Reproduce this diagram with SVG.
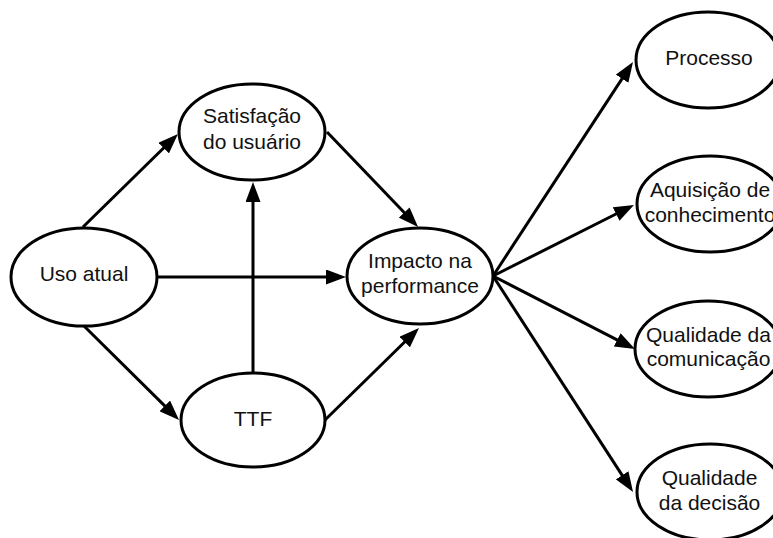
<svg xmlns="http://www.w3.org/2000/svg" width="773" height="538" viewBox="0 0 773 538">
<style>
.node ellipse{fill:#fff;stroke:#000;stroke-width:3}
.node text{font-family:"Liberation Sans",Arial,sans-serif;font-size:21px;fill:#111;text-anchor:middle}
.edges line{stroke:#000;stroke-width:3;marker-end:url(#arr)}
</style>
<defs>
<marker id="arr" markerUnits="userSpaceOnUse" markerWidth="20" markerHeight="15" refX="1" refY="7.5" orient="auto">
<path d="M0,0 L20,7.5 L0,15 z" fill="#000"/>
</marker>
</defs>
<rect width="773" height="538" fill="#fff"/>
<g class="edges">
<line x1="83" y1="227" x2="164.4" y2="147.3"/>
<line x1="84" y1="326" x2="165.5" y2="406.6"/>
<line x1="157" y1="277" x2="327" y2="277"/>
<line x1="253" y1="373" x2="253" y2="201"/>
<line x1="327" y1="132" x2="404.9" y2="213.3"/>
<line x1="325" y1="420" x2="405.4" y2="341.3"/>
<line x1="493" y1="276" x2="622.6" y2="77.9"/>
<line x1="493" y1="276" x2="617" y2="213.5"/>
<line x1="493" y1="276" x2="618.1" y2="340.3"/>
<line x1="493" y1="276" x2="622.7" y2="476.1"/>
</g>
<g id="uso" class="node"><ellipse cx="84" cy="277" rx="73" ry="49"/><text x="84" y="281">Uso atual</text></g>
<g id="satisfacao" class="node"><ellipse cx="252" cy="132" rx="73" ry="48"/><text x="252" y="123">Satisfação</text><text x="252" y="149">do usuário</text></g>
<g id="ttf" class="node"><ellipse cx="253" cy="420" rx="72" ry="47"/><text x="253" y="426">TTF</text></g>
<g id="impacto" class="node"><ellipse cx="420" cy="276" rx="73" ry="48"/><text x="420" y="268">Impacto na</text><text x="420" y="293">performance</text></g>
<g id="processo" class="node"><ellipse cx="708" cy="60" rx="72" ry="48"/><text x="709" y="65">Processo</text></g>
<g id="aquisicao" class="node"><ellipse cx="710" cy="204" rx="73" ry="48"/><text x="710" y="197">Aquisição de</text><text x="710" y="222">conhecimento</text></g>
<g id="comunicacao" class="node"><ellipse cx="708" cy="349" rx="73" ry="48"/><text x="708.5" y="342">Qualidade da</text><text x="708.5" y="366">comunicação</text></g>
<g id="decisao" class="node"><ellipse cx="710" cy="492" rx="73" ry="48"/><text x="709.5" y="485">Qualidade</text><text x="709.5" y="510">da decisão</text></g>
</svg>
